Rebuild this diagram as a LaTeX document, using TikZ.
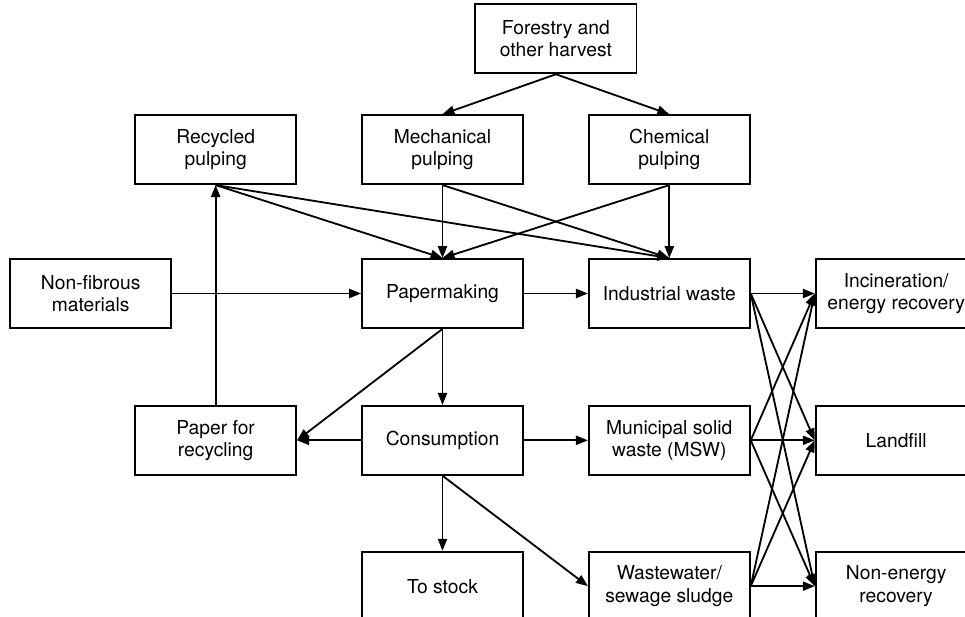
\documentclass[tikz,border=0pt]{standalone}
\usepackage{fontspec}
\setmainfont{TeX Gyre Heros}
\usetikzlibrary{positioning,calc,arrows.meta}

\begin{document}
\begin{tikzpicture}[node distance=1.825cm and 1.6cm, every node/.style={font=\fontsize{13.7}{15.8}\selectfont},
                        box/.style={draw=black, line width=1.3pt, align=center, minimum width=4.025cm, minimum height=1.725cm, inner sep=2pt},
                        flow/.style={-{Triangle[length=8.5pt,width=6.5pt]}, line width=1.3pt}]
        \useasboundingbox (-11.0625,-8.0875) rectangle (13.0625,7.3375);

        \node (pap) [box] {Papermaking};
        \node (ind) [box, right = of pap] {Industrial waste};
        \node (inc) [box, right = of ind] {Incineration/\\ energy recovery};
        \node (nonfib) [box, left = 4.725cm of pap] {Non-fibrous\\ materials};

        \node (mech) [box, above = of pap] {Mechanical\\ pulping};
        \node (chem) [box, above = of ind] {Chemical\\ pulping};
        \node (rec) [box, left = of mech] {Recycled\\ pulping};
        \coordinate (mid) at ($(mech.north)!0.5!(chem.north)$);
        \node (forest) [box, above = 1cm of mid] {Forestry and\\ other harvest};

        \node (cons) [box, below = 1.9cm of pap] {Consumption};
        \node (recyc) [box, left = of cons] {Paper for\\ recycling};
        \node (msw) [box, right = of cons] {Municipal solid\\ waste (MSW)};
        \node (land) [box, right = of msw] {Landfill};

        \node (stock) [box, below = 1.875cm of cons] {To stock};
        \node (wwater) [box, right = of stock] {Wastewater/\\ sewage sludge};
        \node (nonen) [box, right = of wwater] {Non-energy\\ recovery};

        % harvest and pulping
        \draw[flow] (forest.south) -- (mech.north);
        \draw[flow] (forest.south) -- (chem.north);
        \draw[flow] (rec.south) -- (pap.north);
        \draw[flow] (rec.south) -- (ind.north);
        \draw[flow] (mech.south) -- (pap.north);
        \draw[flow] (mech.south) -- (ind.north);
        \draw[flow] (chem.south) -- (pap.north);
        \draw[flow] (chem.south) -- (ind.north);

        \draw[flow] (nonfib) -- (pap);
        \draw[flow] (pap) -- (ind);
        \draw[flow] (pap.south) -- (cons.north);
        \draw[flow] (pap.south) -- (recyc.east);
        \draw[flow] (cons) -- (recyc);
        \draw[flow] (recyc.north) -- (rec.south);
        \draw[flow] (cons) -- (msw);
        \draw[flow] (cons.south) -- (stock.north);
        \draw[flow] (cons.south) -- (wwater.west);

        % waste treatment
        \draw[flow] (ind.east) -- (inc.west);
        \draw[flow] (ind.east) -- (land.west);
        \draw[flow] (ind.east) -- (nonen.west);
        \draw[flow] (msw.east) -- (inc.west);
        \draw[flow] (msw.east) -- (land.west);
        \draw[flow] (msw.east) -- (nonen.west);
        \draw[flow] (wwater.east) -- (inc.west);
        \draw[flow] (wwater.east) -- (land.west);
        \draw[flow] (wwater.east) -- (nonen.west);
    \end{tikzpicture}
\end{document}
